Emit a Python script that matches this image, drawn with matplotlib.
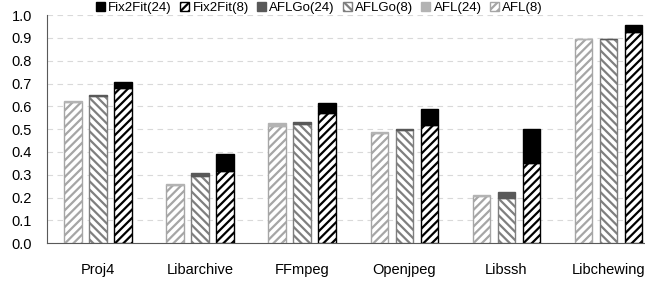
import numpy as np
import matplotlib
matplotlib.use('Agg')
import matplotlib.pyplot as plt
from matplotlib.patches import Patch

plt.rcParams['font.family'] = ['Liberation Sans Narrow', 'Liberation Sans', 'DejaVu Sans']
plt.rcParams['hatch.linewidth'] = 1.6

#%% Dados
programs = ['Proj4', 'Libarchive', 'FFmpeg', 'Openjpeg', 'Libssh', 'Libchewing']
afl_8 = [0.620, 0.253, 0.515, 0.484, 0.206, 0.896]
afl_24 = [0.625, 0.258, 0.525, 0.488, 0.210, 0.896]
aflgo_8 = [0.645, 0.294, 0.522, 0.496, 0.200, 0.896]
aflgo_24 = [0.648, 0.306, 0.532, 0.501, 0.224, 0.896]
fix_8 = [0.680, 0.317, 0.569, 0.518, 0.352, 0.925]
fix_24 = [0.706, 0.390, 0.615, 0.589, 0.499, 0.957]
yticks = [0.0, 0.1, 0.2, 0.3, 0.4, 0.5, 0.6, 0.7, 0.8, 0.9, 1.0]

#%% Plot
x = np.arange(len(programs))
w = 0.17
off = 0.245

fig = plt.figure(figsize=(6.45, 2.85), dpi=100)
ax = fig.add_axes([0.073, 0.147, 0.927, 0.80])

series = [
    (x - off, afl_8, afl_24, '#a6a6a6', '#b3b3b3', '////'),
    (x, aflgo_8, aflgo_24, '#7f7f7f', '#595959', '\\\\\\\\'),
    (x + off, fix_8, fix_24, '#000000', '#000000', '////'),
]
for pos, base, top, ec, topc, hat in series:
    base = np.array(base)
    top = np.array(top)
    ax.bar(pos, base, w, color='white', edgecolor=ec, hatch=hat, linewidth=1.0, zorder=3)
    ax.bar(pos, top - base, w, bottom=base, color=topc, edgecolor=topc, linewidth=1.0, zorder=3)

ax.set_xlim(-0.5, 5.36)
ax.set_ylim(0, 1.0)
ax.set_yticks(yticks)
ax.set_yticklabels(['%.1f' % v for v in yticks], fontsize=10.5)
ax.set_xticks(x)
ax.set_xticklabels(programs, fontsize=10.5)
ax.tick_params(length=0)
ax.tick_params(axis='y', pad=11)
ax.tick_params(axis='x', pad=14)
ax.grid(axis='y', color='#d9d9d9', linestyle=(0, (5, 4)), linewidth=0.8, zorder=0)
for s in ['top', 'right']:
    ax.spines[s].set_visible(False)
ax.spines['left'].set_color('#595959')
ax.spines['bottom'].set_color('#595959')

handles = [
    Patch(facecolor='#000000', edgecolor='#000000', label='Fix2Fit(24)'),
    Patch(facecolor='white', edgecolor='#000000', hatch='////', label='Fix2Fit(8)'),
    Patch(facecolor='#595959', edgecolor='#595959', label='AFLGo(24)'),
    Patch(facecolor='white', edgecolor='#7f7f7f', hatch='\\\\\\\\', label='AFLGo(8)'),
    Patch(facecolor='#b3b3b3', edgecolor='#b3b3b3', label='AFL(24)'),
    Patch(facecolor='white', edgecolor='#a6a6a6', hatch='////', label='AFL(8)'),
]
fig.legend(handles=handles, loc='center', bbox_to_anchor=(0.495, 0.972), ncol=6,
           frameon=False, fontsize=9.5, handlelength=0.7, handleheight=0.7,
           handletextpad=0.25, columnspacing=0.6, borderaxespad=0)

plt.savefig('out.png', dpi=100)
